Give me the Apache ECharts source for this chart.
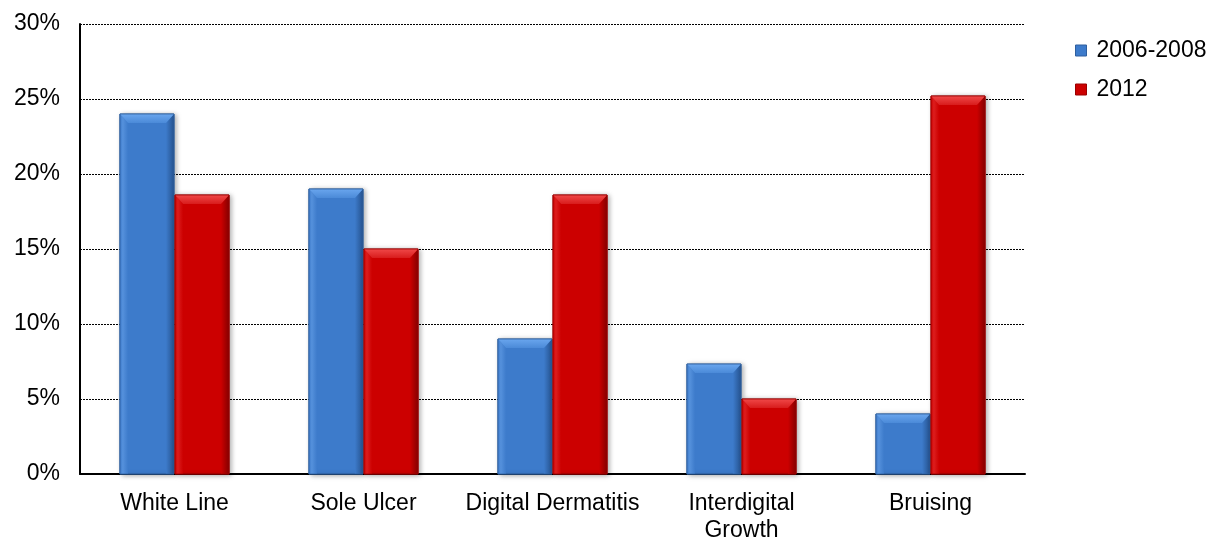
<!DOCTYPE html>
<html><head><meta charset="utf-8">
<script src="https://cdn.jsdelivr.net/npm/echarts@6/dist/echarts.min.js"></script>
<style>html,body{margin:0;padding:0;background:#fff}#c{width:1210px;height:538px}</style>
</head><body><div id="c"></div>
<script>
const categories = ['White Line', 'Sole Ulcer', 'Digital Dermatitis', 'Interdigital\nGrowth', 'Bruising'];
const seriesNames = ['2006-2008', '2012'];
const series2006 = [24, 19, 9, 7.33, 4];
const series2012 = [18.6, 15, 18.6, 5, 25.2];
const yTicks = { min: 0, max: 30, interval: 5 };

const palettes = [
  { body: '#3d7bcb', top: '#6aa6ee', topLow: '#4b8ad8', left: '#5591dc', right: '#25528e', border: '#2f5f9e' },
  { body: '#cc0000', top: '#f04848', topLow: '#d81c1c', left: '#dc1e1e', right: '#850000', border: '#990000' }
];
const LG = echarts.graphic.LinearGradient;

function makeRender(si) {
  const p = palettes[si];
  return function (params, api) {
    const idx = api.value(0), v = api.value(1);
    const top = api.coord([idx, v]);
    const base = api.coord([idx, 0]);
    const band = api.size([1, 0])[0];
    const w = band * 0.286;
    const l = si === 0 ? top[0] - w - 0.5 : top[0] + 0.5;
    const r = l + w, t = top[1], b = base[1];
    const bv = Math.min(9, (b - t) / 2);
    const sx = bv * 0.9;
    return {
      type: 'group',
      children: [
        { type: 'rect', shape: { x: l, y: t, width: w, height: b - t },
          style: { fill: p.body, stroke: p.border, lineWidth: 1, shadowColor: 'rgba(0,0,0,0.35)', shadowBlur: 5, shadowOffsetX: 2, shadowOffsetY: 1 } },
        { type: 'polygon', shape: { points: [[l, t], [l + sx, t + bv], [l + sx, b], [l, b]] },
          style: { fill: new LG(0, 0, 1, 0, [{ offset: 0, color: p.body }, { offset: 0.35, color: p.left }, { offset: 1, color: p.body }]) } },
        { type: 'polygon', shape: { points: [[r, t], [r - sx, t + bv], [r - sx, b], [r, b]] },
          style: { fill: new LG(0, 0, 1, 0, [{ offset: 0, color: p.body }, { offset: 1, color: p.right }]) } },
        { type: 'polygon', shape: { points: [[l, t], [r, t], [r - sx, t + bv], [l + sx, t + bv]] },
          style: { fill: new LG(0, 0, 0, 1, [{ offset: 0, color: p.top }, { offset: 1, color: p.topLow }]) } },
        { type: 'rect', shape: { x: l, y: t, width: w, height: b - t },
          style: { fill: 'none', stroke: p.border, lineWidth: 0.8 } }
      ]
    };
  };
}

const chart = echarts.init(document.getElementById('c'));
const font = 'Liberation Sans, Arial, sans-serif';
chart.setOption({
  animation: false,
  grid: { left: 80, right: 185, top: 24, bottom: 64, containLabel: false, outerBoundsMode: 'none' },
  legend: {
    orient: 'vertical', left: 1075, top: 39, itemGap: 16, padding: 0,
    itemWidth: 11, itemHeight: 11, icon: 'rect',
    data: seriesNames.map((n, i) => ({ name: n, itemStyle: { color: palettes[i].body, borderColor: palettes[i].border, borderWidth: 1 } })),
    textStyle: { fontFamily: font, fontSize: 23, color: '#000', padding: [0, 0, 0, 5] }
  },
  xAxis: {
    type: 'category', data: categories,
    axisLine: { lineStyle: { color: '#000', width: 2 } },
    axisTick: { show: false },
    axisLabel: { interval: 0, fontFamily: font, fontSize: 23, color: '#000', margin: 16, lineHeight: 27 }
  },
  yAxis: {
    type: 'value', min: yTicks.min, max: yTicks.max, interval: yTicks.interval,
    axisLine: { show: true, lineStyle: { color: '#000', width: 2 } },
    axisTick: { show: false },
    axisLabel: { fontFamily: font, fontSize: 23, color: '#000', margin: 20, formatter: '{value}%' },
    splitLine: { lineStyle: { color: '#000', type: [2, 1], width: 1 } }
  },
  series: [
    { name: seriesNames[0], type: 'custom', renderItem: makeRender(0), itemStyle: { color: palettes[0].body },
      encode: { x: 0, y: 1 }, data: series2006.map((v, i) => [i, v]) },
    { name: seriesNames[1], type: 'custom', renderItem: makeRender(1), itemStyle: { color: palettes[1].body },
      encode: { x: 0, y: 1 }, data: series2012.map((v, i) => [i, v]) }
  ]
});
</script></body></html>
